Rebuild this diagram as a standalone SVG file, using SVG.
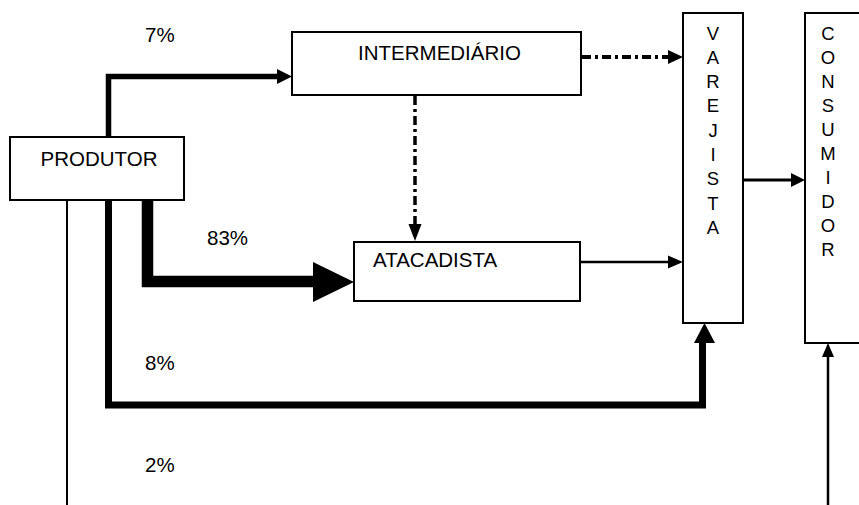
<svg xmlns="http://www.w3.org/2000/svg" width="859" height="505" viewBox="0 0 859 505">
<style>
.box{fill:#fff;stroke:#000;stroke-width:2}
.t{font-family:"Liberation Sans",Arial,sans-serif;font-size:20.5px;fill:#000}
.v{font-family:"Liberation Sans",Arial,sans-serif;font-size:18.5px;fill:#000;text-anchor:middle}
.ln{fill:none;stroke:#000;stroke-linejoin:miter;stroke-linecap:butt}
.dd{stroke-dasharray:9 4 3 4}
.ah{fill:#000}
</style>
<rect width="859" height="505" fill="#fff"/>
<g id="connectors">
  <polyline class="ln" stroke-width="5.5" points="108.5,137 108.5,76.5 279,76.5"/>
  <polygon class="ah" points="277,69 292,76.5 277,84"/>
  <line class="ln dd" stroke-width="4" x1="582" y1="57" x2="669" y2="57"/>
  <polygon class="ah" points="668,50 683,57 668,64"/>
  <line class="ln dd" stroke-width="3.5" x1="415" y1="96" x2="415" y2="225"/>
  <polygon class="ah" points="408.5,224 421.5,224 415,241"/>
  <polyline class="ln" stroke-width="11.5" points="147.5,200 147.5,281.5 315,281.5"/>
  <polygon class="ah" points="313,262 354,282 313,302"/>
  <line class="ln" stroke-width="2.5" x1="580" y1="262" x2="670" y2="262"/>
  <polygon class="ah" points="668,255.5 683,262 668,268.5"/>
  <polyline class="ln" stroke-width="7" points="108.5,200 108.5,405 702.5,405 702.5,341"/>
  <polygon class="ah" points="694,343 704.5,323 715,343"/>
  <line class="ln" stroke-width="3" x1="743" y1="180" x2="792" y2="180"/>
  <polygon class="ah" points="791,173 805,180 791,187"/>
  <line class="ln" stroke-width="2" x1="67" y1="200" x2="67" y2="505"/>
  <line class="ln" stroke-width="2.5" x1="828" y1="505" x2="828" y2="355"/>
  <polygon class="ah" points="822,357 828,343 834,357"/>
</g>
<g id="produtor">
  <rect class="box" x="10" y="137" width="174" height="63"/>
  <text class="t" x="99" y="166" text-anchor="middle">PRODUTOR</text>
</g>
<g id="intermediario">
  <rect class="box" x="292" y="32" width="289" height="63"/>
  <text class="t" x="439.5" y="60" text-anchor="middle">INTERMEDIÁRIO</text>
</g>
<g id="atacadista">
  <rect class="box" x="354" y="242" width="226" height="59"/>
  <text class="t" x="373" y="267">ATACADISTA</text>
</g>
<g id="varejista">
  <rect class="box" x="683" y="13" width="60" height="310"/>
  <text class="v" x="713" y="40">V</text>
  <text class="v" x="713" y="64">A</text>
  <text class="v" x="713" y="88">R</text>
  <text class="v" x="713" y="112">E</text>
  <text class="v" x="713" y="137">J</text>
  <text class="v" x="713" y="161">I</text>
  <text class="v" x="713" y="185">S</text>
  <text class="v" x="713" y="210">T</text>
  <text class="v" x="713" y="234">A</text>
</g>
<g id="consumidor">
  <rect class="box" x="805" y="13" width="60" height="330"/>
  <text class="v" x="828" y="40">C</text>
  <text class="v" x="828" y="64">O</text>
  <text class="v" x="828" y="88">N</text>
  <text class="v" x="828" y="112">S</text>
  <text class="v" x="828" y="136">U</text>
  <text class="v" x="828" y="160">M</text>
  <text class="v" x="828" y="184">I</text>
  <text class="v" x="828" y="208">D</text>
  <text class="v" x="828" y="232">O</text>
  <text class="v" x="828" y="256">R</text>
</g>
<g id="labels">
  <text class="t" x="145" y="42">7%</text>
  <text class="t" x="207" y="245">83%</text>
  <text class="t" x="145" y="370">8%</text>
  <text class="t" x="145" y="472">2%</text>
</g>
</svg>
